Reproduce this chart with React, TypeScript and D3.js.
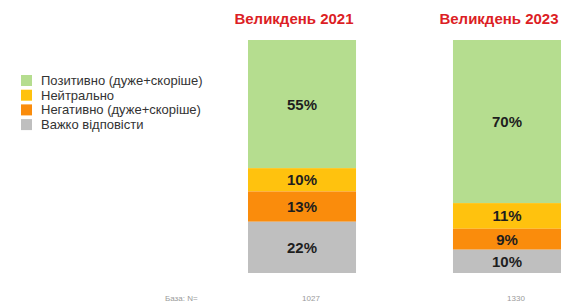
import React from 'react'
import * as d3 from 'd3'

const periods = ['Великдень 2021', 'Великдень 2023']
const baseN = ['1027', '1330']
const categories = [
  'Позитивно (дуже+скоріше)',
  'Нейтрально',
  'Негативно (дуже+скоріше)',
  'Важко відповісти'
]
// values by category, one per period
const positive = [55, 70]
const neutral = [10, 11]
const negative = [13, 9]
const hard = [22, 10]
const colors = ['#b5dd8f', '#ffc20e', '#fa8c0c', '#bfbfbf']

const W = 564
const H = 304
const font = '"Liberation Sans", Arial, sans-serif'

const App = () => {
  const series = [positive, neutral, negative, hard]
  const rows = periods.map((p, i) => {
    const r: any = { period: p }
    categories.forEach((c, k) => { r[c] = series[k][i] })
    return r
  })
  const stacked = d3.stack<any>().keys(categories)(rows)

  const x = d3.scaleBand().domain(periods).range([248, 561]).paddingInner(0.473).paddingOuter(0)
  const y = d3.scaleLinear().domain([0, 100]).range([273, 40])
  const bw = x.bandwidth()

  return (
    <svg width={W} height={H} style={{ position: 'absolute', left: 0, top: 0, fontFamily: font }}>
      <rect width={W} height={H} fill='#fff' />
      {/* legend */}
      {categories.map((c, i) => (
        <g key={c} transform={`translate(21,${75 + i * 14.7})`}>
          <rect width={11} height={11} fill={colors[i]} />
          <text x={20} y={10} fontSize={13} fill='#333'>{c}</text>
        </g>
      ))}
      {/* stacked bars, drawn top-down: positive on top */}
      {stacked.map((layer, k) => (
        <g key={layer.key} fill={colors[k]}>
          {layer.map((d, i) => {
            const top = y(100 - d[0])
            const bottom = y(100 - d[1])
            const v = d[1] - d[0]
            return (
              <g key={i}>
                <rect x={x(periods[i])} y={top} width={bw} height={bottom - top} />
                <text
                  x={(x(periods[i]) as number) + bw / 2}
                  y={(top + bottom) / 2 + 5.5}
                  textAnchor='middle'
                  fontSize={15}
                  fontWeight='bold'
                  fill='#1e1e1e'
                >{v}%</text>
              </g>
            )
          })}
        </g>
      ))}
      {/* titles */}
      {periods.map(p => (
        <text key={p} x={(x(p) as number) + bw / 2 - 8} y={24} textAnchor='middle'
          fontSize={15} fontWeight='bold' fill='#dc1e25'>{p}</text>
      ))}
      {/* base */}
      <text x={165} y={301} fontSize={8} fill='#9a9a9a'>База: N=</text>
      {periods.map((p, i) => (
        <text key={p} x={(x(p) as number) + bw / 2 + 9} y={301} textAnchor='middle'
          fontSize={8} fill='#9a9a9a'>{baseN[i]}</text>
      ))}
    </svg>
  )
}

export default App
